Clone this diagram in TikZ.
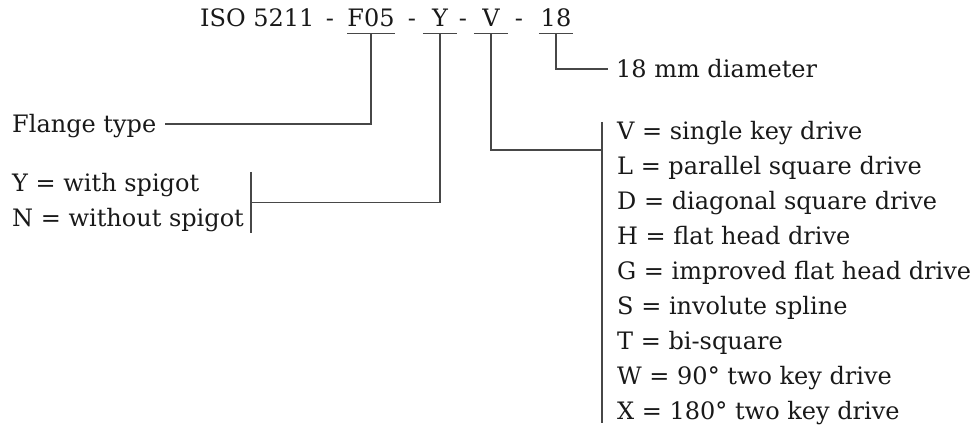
\documentclass[tikz,border=0pt]{standalone}
\usepackage{fontspec}
\setmainfont{DejaVu Serif}
\usepackage{tikz}
\usetikzlibrary{positioning}

\begin{document}
\begin{tikzpicture}[x=1pt,y=-1pt,font=\fontsize{24}{35}\selectfont,text=black!90,
 code/.style = {inner sep=0pt,minimum width=34pt,text depth=6pt,anchor=base},
 part/.style = {inner sep=0pt,anchor=base},
 desc/.style = {inner sep=0pt,text height=18pt,text depth=0pt,anchor=base west},
 list/.style = {inner ysep=1pt,align=left,anchor=north west},
 rule/.style = {line width=1.3pt,draw=black!72},
]
\useasboundingbox (0,0) rectangle (973,430);

% code line
\node (iso)[part,anchor=base west] at (200,27) {ISO 5211};
\node (d1)[part] at (330,27) {-};
\node (f05)[code] at (371,27) {F05};
\node (d2)[part] at (412,27) {-};
\node (y)[code]   at (440,27) {Y};
\node (d3)[part] at (463,27) {-};
\node (v)[code]   at (491,27) {V};
\node (d4)[part] at (519,27) {-};
\node (d18)[code] at (556,27) {18};

\foreach \c in {f05,y,v,d18}
  \draw[rule] (\c.south west) -- (\c.south east);

% meanings
\node (dia)[desc]    at (616,78)  {18 mm diameter};
\node (flange)[desc] at (12,133)  {Flange type};
\node (spigot)[list,inner xsep=7pt] at (5,172)
  {Y = with spigot\\N = without spigot};
\node (drives)[list,inner xsep=15pt] at (602,120)
  {V = single key drive\\
   L = parallel square drive\\
   D = diagonal square drive\\
   H = flat head drive\\
   G = improved flat head drive\\
   S = involute spline\\
   T = bi-square\\
   W = 90° two key drive\\
   X = 180° two key drive};

% leaders
\draw[rule] (d18.south) |- ([xshift=-8pt]dia.west);
\draw[rule] (f05.south) |- ([xshift=9pt]flange.east);
\draw[rule] (spigot.north east) -- (spigot.south east);
\draw[rule] (y.south) |- (spigot.east);
\draw[rule] ([yshift=-2pt]drives.north west) -- ([yshift=3pt]drives.south west);
\draw[rule] (v.south) |- ([yshift=-30pt]drives.north west);
\end{tikzpicture}
\end{document}
